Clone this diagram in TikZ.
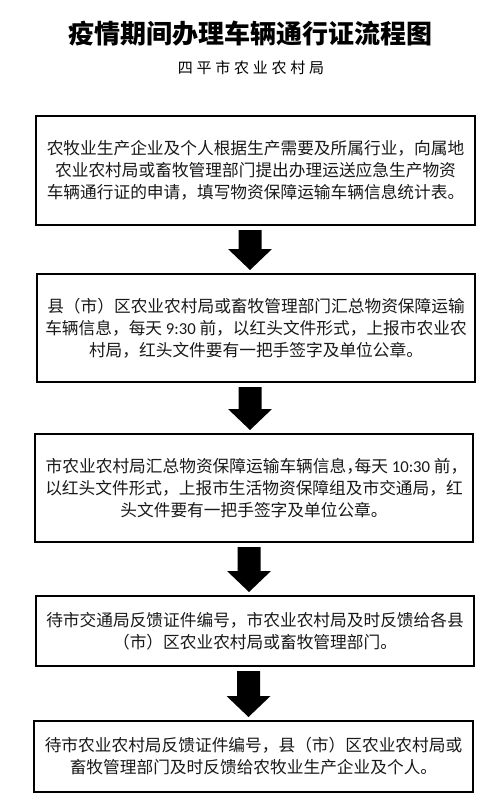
\documentclass[tikz,border=0pt]{standalone}
\usepackage{fontspec}
\usetikzlibrary{calc}
\newfontfamily\cjk{Noto Sans CJK SC}
\newfontfamily\lat{Carlito}
\newcommand\blockarr[2]{%
  \fill[arrowfill] let \p1=(#1.south), \p2=(#2.north), \p3=(ax) in
    (\x3-11.5pt,\y1-4pt) -- (\x3+11.5pt,\y1-4pt) -- (\x3+11.5pt,\y2+24pt) --
    (\x3+22pt,\y2+24pt) -- (\x3,\y2+3pt) -- (\x3-22pt,\y2+24pt) --
    (\x3-11.5pt,\y2+24pt) -- cycle;}
\begin{document}
\begin{tikzpicture}[x=1pt,y=-1pt,
  stepbox/.style={draw=black,line width=2pt,fill=white,align=center,
    inner sep=0pt,font=\cjk\fontsize{16.7}{22}\selectfont,text=black!90},
  arrowfill/.style={fill=black},
  titletext/.style={font=\cjk\bfseries\fontsize{26}{30}\selectfont},
  subtext/.style={font=\cjk\fontsize{15}{18}\selectfont\addfontfeatures{LetterSpace=25}}]
\useasboundingbox (0,0) rectangle (497,811);
\node[titletext] (title) at (250,34) {疫情期间办理车辆通行证流程图};
\node[subtext] (sub) at (251,68) {四平市农业农村局};
\node[stepbox,minimum width=439pt,minimum height=109pt] (b1) at (255.5,170.5)
  {农牧业生产企业及个人根据生产需要及所属行业，向属地\\
   农业农村局或畜牧管理部门提出办理运送应急生产物资\\
   车辆通行证的申请，填写物资保障运输车辆信息统计表。};
\node[stepbox,minimum width=438pt,minimum height=108pt] (b2) at (256,328)
  {县（市）区农业农村局或畜牧管理部门汇总物资保障运输\\
   车辆信息，每天 {\lat 9:30} 前，以红头文件形式，上报市农业农\\
   村局，红头文件要有一把手签字及单位公章。};
\node[stepbox,minimum width=438pt,minimum height=108pt] (b3) at (254,488)
  {市农业农村局汇总物资保障运输车辆信息，\kern-0.5em 每天 {\lat 10:30} 前，\kern-0.3em\\
   以红头文件形式，上报市生活物资保障组及市交通局，红\\
   头文件要有一把手签字及单位公章。};
\node[stepbox,minimum width=438pt,minimum height=70pt] (b4) at (255,631)
  {待市交通局反馈证件编号，市农业农村局及时反馈给各县\\
   （市）区农业农村局或畜牧管理部门。};
\node[stepbox,minimum width=439pt,minimum height=71pt] (b5) at (253.5,756.5)
  {待市农业农村局反馈证件编号，县（市）区农业农村局或\\
   畜牧管理部门及时反馈给农牧业生产企业及个人。};
\coordinate (ax) at (250,0);
\blockarr{b1}{b2}
\blockarr{b2}{b3}
\coordinate (ax) at (249,0);
\blockarr{b3}{b4}
\coordinate (ax) at (248.5,0);
\blockarr{b4}{b5}
\end{tikzpicture}
\end{document}
